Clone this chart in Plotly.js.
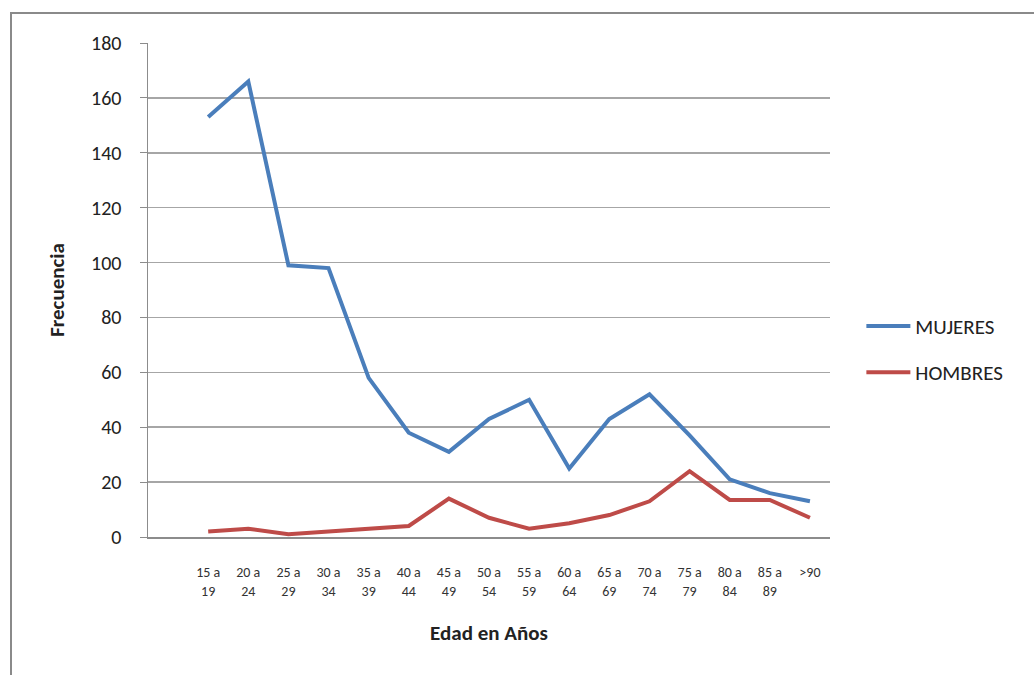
<!DOCTYPE html>
<html>
<head>
<meta charset="utf-8">
<script src="https://cdn.plot.ly/plotly-3.0.1.min.js"></script>
<style>
  html, body { margin: 0; padding: 0; background: #fff; }
  #frame { position: absolute; left: 10px; top: 12px; width: 1100px; height: 700px;
           border-left: 2px solid #8a8a8a; border-top: 2px solid #8a8a8a; }
  #chart { position: absolute; left: 0; top: 0; width: 1034px; height: 675px; }
</style>
</head>
<body>
<div id="frame"></div>
<div id="chart"></div>
<script>
// Age groups (two-line tick labels)
const ageGroups = ["15 a<br>19", "20 a<br>24", "25 a<br>29", "30 a<br>34", "35 a<br>39", "40 a<br>44",
                   "45 a<br>49", "50 a<br>54", "55 a<br>59", "60 a<br>64", "65 a<br>69", "70 a<br>74",
                   "75 a<br>79", "80 a<br>84", "85 a<br>89", ">90"];
// Frequencies per age group
const mujeres = [153, 166, 99, 98, 58, 38, 31, 43, 50, 25, 43, 52, 37, 21, 16, 13];
const hombres = [2, 3, 1, 2, 3, 4, 14, 7, 3, 5, 8, 13, 24, 13.5, 13.5, 7];
const yTicks = [0, 20, 40, 60, 80, 100, 120, 140, 160, 180];

const fontFam = "Carlito, 'Liberation Sans Narrow', 'Liberation Sans', Arial, sans-serif";

const traces = [
  { x: ageGroups, y: mujeres, name: "MUJERES", type: "scatter", mode: "lines",
    line: { color: "#4a7ebb", width: 4 }, legendgroup: "m" },
  { x: ageGroups, y: hombres, name: "HOMBRES", type: "scatter", mode: "lines",
    line: { color: "#be4b48", width: 4 }, legendgroup: "h" }
];

const layout = {
  width: 1034, height: 675,
  margin: { l: 148, r: 204, t: 43, b: 138 },
  paper_bgcolor: "rgba(0,0,0,0)",
  plot_bgcolor: "rgba(0,0,0,0)",
  font: { family: fontFam, color: "#222" },
  xaxis: {
    type: "category",
    categoryorder: "array", categoryarray: ageGroups,
    range: [-1.5, 15.5],
    showgrid: false, zeroline: false,
    showline: true, linecolor: "#8c8c8c", linewidth: 1.5,
    ticks: "", ticklabelstandoff: 22,
    tickfont: { size: 14, color: "#333", family: fontFam },
    title: { text: "<b>Edad en Años</b>", font: { size: 21, color: "#222", family: fontFam }, standoff: 27 }
  },
  yaxis: {
    range: [0, 180],
    tickvals: yTicks,
    showgrid: true, gridcolor: "#a6a6a6", gridwidth: 1.5,
    zeroline: false,
    showline: true, linecolor: "#8c8c8c", linewidth: 1.5,
    ticks: "outside", ticklen: 7, tickcolor: "#8c8c8c",
    ticklabelstandoff: 14,
    tickfont: { size: 20, color: "#222", family: fontFam },
    title: { text: "<b>Frecuencia</b>", font: { size: 21, color: "#222", family: fontFam }, standoff: 20 }
  },
  showlegend: true,
  legend: {
    x: 1.046, y: 0.38, xanchor: "left", yanchor: "middle",
    traceorder: "grouped", tracegroupgap: 16,
    itemwidth: 44,
    font: { size: 21, color: "#222", family: fontFam },
    bgcolor: "rgba(0,0,0,0)"
  }
};

Plotly.newPlot("chart", traces, layout, { displayModeBar: false, staticPlot: true });
</script>
</body>
</html>
